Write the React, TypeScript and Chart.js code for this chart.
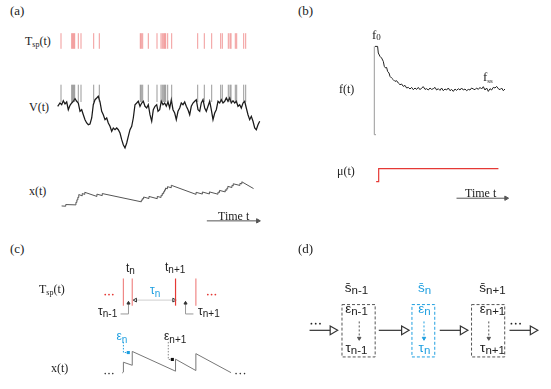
import React, { useEffect, useRef } from "react";
import { Chart, registerables } from "chart.js";
Chart.register(...registerables);

const SERIF = '"Liberation Serif", "Times New Roman", serif';
const SANS = '"Liberation Sans", Arial, sans-serif';
const RED = "#e53935";
const BLUE = "#1f9fe0";

// ---------------- Panel (a) data ----------------
const spikeTimesA = [6, 16.7, 17.7, 18.7, 19.7, 23.3, 26, 38.7, 44.3, 85.3, 86.3, 87.7, 93.3, 102, 106, 107.3, 108.7, 109.7, 110.7, 112.7, 116.7, 142.7, 149.3, 156.7, 165.7, 167.3, 173.3, 175, 176, 180.3, 181.7, 188.7, 190.7];

const vTimes = [2.7, 5, 6.7, 8.3, 10, 11.7, 13.3, 15, 16.7, 18.3, 20, 21.7, 23.3, 25, 26.7, 28.3, 30, 31.7, 33.3, 35, 36.7, 38.3, 40, 41.7, 43.3, 45, 46.7, 48.3, 50, 51.7, 53.3, 55, 56.7, 58.3, 60, 61.7, 63.3, 65, 66.7, 68.3, 70, 71.7, 73.3, 75, 76.7, 78.3, 80, 81.7, 83.3, 85, 86.7, 88.3, 90, 91.7, 93.3, 95, 96.7, 98.3, 100, 101.7,
  103, 104.7, 106.3, 108, 109.7, 111.3, 113, 114.7, 116.3, 118, 119.7, 121.3, 123, 124.7, 126.3, 128, 129.7, 131.3, 133, 134.7, 136.3, 138, 139.7, 141.3, 143, 144.7, 146.3, 148, 149.7, 151.3, 153, 154.7, 156.3, 158, 159.7, 161.3, 163, 164.7, 166.3, 168, 169.7, 171.3, 173, 174.7, 176.3, 178, 179.7, 181.3, 183, 184.7, 186.3, 188, 189.7, 191.3, 193, 194.7, 196.3, 198, 199.7, 201.3, 203, 204.7];
const vValues = [-28.3, -25, -26.7, -22.7, -26, -24, -31.7, -27.3, -25, -23.3, -20.7, -23.3, -25, -33.3, -31.7, -36.7, -41.7, -45, -46.7, -46, -40, -26.7, -21.7, -20, -18.3, -24, -33.3, -36.7, -41.7, -40, -45, -48.3, -53.3, -50, -51.7, -50, -51.7, -55, -61.7, -66.7, -70, -65, -58.3, -51.7, -48.3, -40, -26.7, -25, -23.3, -28.3, -25, -23.3, -28.3, -30, -26.7, -36.7, -43.3, -31.7, -28.3, -26.7,
  -33.3, -31.7, -23.3, -26.7, -25, -28.3, -24, -30, -21.7, -31.7, -35, -41.7, -33.3, -30, -25, -26.7, -24, -28.3, -31.7, -36.7, -28.3, -25, -23.3, -21.7, -31.7, -33.3, -25, -21.7, -30, -33.3, -28.3, -23.3, -31.7, -41.7, -35, -31.7, -23.3, -25, -21.7, -25, -23.3, -20, -23.3, -20, -25, -22.7, -25, -23.3, -28.3, -26.7, -30, -25, -23.3, -30, -36.7, -41.7, -38.3, -43.3, -50, -51.7, -46.7, -43.3];
const vSpikeTop = -6.7;
const vSpikeBase = -24;

const xTimes = [1.7, 6, 6, 16.7, 16.7, 17.7, 17.7, 18.7, 18.7, 19.7, 19.7, 23.3, 23.3, 26, 26, 38.7, 38.7, 44.3, 44.3, 85.3, 85.3, 86.3, 86.3, 87.7, 87.7, 93.3, 93.3, 102, 102, 106, 106, 107.3, 107.3, 108.7, 108.7, 109.7, 109.7, 110.7, 110.7, 112.7, 112.7, 116.7, 116.7, 142.7, 142.7, 149.3, 149.3, 156.7, 156.7, 165.7, 165.7, 167.3, 167.3, 173.3, 173.3, 175, 175, 176, 176, 180.3, 180.3, 181.7, 181.7, 188.7, 188.7, 190.7, 190.7, 203];
const xValues = [7, 6.7, 8.7, 8.3, 11.5, 11.3, 14.5, 14.3, 17.5, 17.3, 20.8, 19.2, 22, 21, 23.5, 18.5, 21.3, 19.5, 22, 12, 14, 13.8, 15.8, 15.5, 17.8, 16, 18.5, 15.8, 18.5, 17.3, 20, 19.6, 22.3, 21.8, 24.3, 24, 26.5, 26.1, 28.6, 27.8, 30.3, 29, 32, 21, 23.5, 21.4, 23.9, 21.5, 24, 21.2, 23.8, 23.3, 25.8, 24, 26.5, 26, 28.5, 28.2, 30.7, 29.3, 31.8, 31.3, 33.8, 31.8, 34.3, 33.7, 36.2, 28];

// ---------------- Panel (b) data ----------------
const fTimes = [0.7, 3.3, 4, 5.7, 7.3, 9, 10, 11.3, 12.3, 13.3, 14.7, 15.7, 17.3, 19, 20.7, 22.3, 24, 25.7, 27.3, 29, 30.7, 32.3, 34, 35.7, 37.3, 39, 40.7, 42.3, 44, 45.7, 47.3, 49, 50.7, 52.3, 54, 55.7, 57.3, 59, 60.7, 62.3, 64, 65.7, 67.3, 69, 70.7, 72.3, 74, 75.7, 77.3, 79, 80.7, 82.3, 84, 85.7, 87.3, 89, 90.7, 92.3, 94, 95.7, 97.3, 99, 100.7, 102.3, 104, 105.7, 107.3, 109, 110.7, 112.3, 114, 115.7, 117.3, 119, 120.7, 122.3, 124, 125.7, 127.3, 129, 130.7];
const fValues = [88.3, 88.3, 81.7, 78.3, 76.7, 73.3, 68.3, 66.7, 67.3, 63.3, 61.7, 58.3, 56.7, 55, 53.3, 54, 51.7, 50, 50.7, 48.3, 49.3, 46.7, 47.3, 45.7, 47.3, 45, 46.7, 45.3, 47.3, 45, 46.7, 48, 45.3, 46, 44.7, 46.7, 45.3, 46, 47.3, 44.7, 46, 44.3, 46.7, 44, 45.7, 44.7, 46.7, 44, 45.3, 43.3, 45.7, 44.3, 46, 44.7, 46.7, 44.7, 45.7, 44, 45.3, 44.7, 46.7, 45.7, 45, 46.7, 45.3, 47.3, 45.7, 48, 44.7, 46.7, 43.3, 46, 44.7, 47.3, 46.7, 48.3, 46, 45, 46.7, 44, 45.7];
const fZero = 0;
const fInit = 88.3;
const muTimes = [-2.7, 0, 0, 128.3];
const muValues = [0, 0, 1, 1];

// ---------------- Panel (c) data ----------------
const cSpikeTimes = [32.3, 41.7, 87.7, 109.3];
const cSawTimes = [31, 32.3, 32.3, 41.7, 41.7, 87.7, 87.7, 109.3, 109.3, 146.7];
const cSawValues = [4.3, 5.3, 16, 12.7, 27.7, 6.3, 19.3, 7, 25.3, 4.7];

// ---------------- Panel (d) data ----------------
const dStates = ["n-1", "n", "n+1"];

// ---------------- helpers ----------------
const pts = (xs: number[], ys: number[]) => xs.map((x, i) => ({ x, y: ys[i] }));

function baseOpts(xmin: number, xmax: number, ymin: number, ymax: number) {
  return {
    responsive: false,
    maintainAspectRatio: false,
    animation: false,
    events: [],
    layout: { padding: 0 },
    plugins: { legend: { display: false }, tooltip: { enabled: false }, title: { display: false } },
    scales: {
      x: { type: "linear", min: xmin, max: xmax, display: false },
      y: { type: "linear", min: ymin, max: ymax, display: false },
    },
  };
}

function line(points: any[], color: string, width: number, extra: any = {}) {
  return {
    data: points,
    showLine: true,
    borderColor: color,
    borderWidth: width,
    pointRadius: 0,
    fill: false,
    tension: 0,
    clip: false,
    ...extra,
  };
}

function arrow(x0: number, y0: number, x1: number, y1: number, color: string, width: number, headR: number, rot: number, headFill: string, extra: any = {}) {
  return line([{ x: x0, y: y0 }, { x: x1, y: y1 }], color, width, {
    pointRadius: [0, headR],
    pointStyle: "triangle",
    pointRotation: [0, rot],
    pointBackgroundColor: headFill,
    pointBorderColor: color,
    pointBorderWidth: 1,
    ...extra,
  });
}

function dots(xs: number[], y: number, color: string, r: number) {
  return {
    data: xs.map((x) => ({ x, y })),
    showLine: false,
    pointRadius: r,
    pointBackgroundColor: color,
    pointBorderWidth: 0,
    clip: false,
  };
}

function ChartCanvas({ x, y, w, h, make }: any) {
  const ref = useRef<HTMLCanvasElement>(null);
  useEffect(() => {
    const chart = new Chart(ref.current as HTMLCanvasElement, make());
    return () => chart.destroy();
  }, []);
  return (
    <canvas
      ref={ref}
      width={w}
      height={h}
      style={{ position: "absolute", left: x, top: y, width: w, height: h }}
    />
  );
}

function Label({ x, y, size = 12, font = SERIF, color = "#222", center = false, children }: any) {
  return (
    <div
      style={{
        position: "absolute",
        left: x,
        top: y - size * 0.85,
        fontFamily: font,
        fontSize: size,
        lineHeight: size + "px",
        color,
        whiteSpace: "nowrap",
        transform: center ? "translateX(-50%)" : undefined,
      }}
    >
      {children}
    </div>
  );
}

function Sub({ size, drop, children }: any) {
  return <span style={{ fontSize: size, lineHeight: 0, verticalAlign: -drop + "px" }}>{children}</span>;
}

// ---------------- chart builders ----------------
const makeRaster = () => ({
  type: "scatter",
  data: {
    datasets: spikeTimesA.map((t) => line([{ x: t, y: 0.2 }, { x: t, y: 0.8 }], "rgba(229,70,70,0.55)", 1)),
  },
  options: baseOpts(0, 210, 0, 1),
});

const makeV = () => ({
  type: "scatter",
  data: {
    datasets: [
      ...spikeTimesA.map((t) => line([{ x: t, y: vSpikeBase }, { x: t, y: vSpikeTop }], "rgba(70,70,70,0.55)", 1)),
      line(pts(vTimes, vValues), "#1a1a1a", 1.25),
    ],
  },
  options: baseOpts(0, 210, -78, 0),
});

const makeX = () => ({
  type: "scatter",
  data: {
    datasets: [
      line(pts(xTimes, xValues), "#555", 1),
      arrow(154, -11, 207.5, -11, "#555", 1, 2.5, 90, "#555"),
    ],
  },
  options: baseOpts(0, 215, -16, 42),
});

const makeF = () => ({
  type: "scatter",
  data: {
    datasets: [
      line([{ x: 1.7, y: fZero }, { x: 0, y: fZero }, { x: 0, y: fInit }], "#999", 1),
      line(pts(fTimes, fValues), "#222", 1),
    ],
  },
  options: baseOpts(-9.3, 140.7, -5.3, 106.7),
});

const makeMu = () => ({
  type: "scatter",
  data: {
    datasets: [
      line(pts(muTimes, muValues), RED, 1.2),
      arrow(83.4, -1.2875, 136.5, -1.2875, "#555", 1, 2.5, 90, "#555"),
    ],
  },
  options: baseOpts(-9.3, 140.7, -1.581, 1.669),
});

const makeC = () => ({
  type: "scatter",
  data: {
    datasets: [
      ...cSpikeTimes.map((t, i) =>
        line([{ x: t, y: 77.3 }, { x: t, y: 106.7 }], i === 2 ? RED : "rgba(229,57,53,0.6)", 1.2)
      ),
      dots([13, 17, 21], 89.3, RED, 0.9),
      dots([122, 126, 130], 89.3, RED, 0.9),
      line([{ x: 45, y: 83.3 }, { x: 86, y: 83.3 }], "#cfcfcf", 1, {
        pointRadius: [2.2, 2.2],
        pointStyle: "triangle",
        pointRotation: [270, 90],
        pointBackgroundColor: "rgba(0,0,0,0)",
        pointBorderColor: "#333",
        pointBorderWidth: 1,
      }),
      line([{ x: 29.3, y: 68.3 }, { x: 37.7, y: 68.3 }, { x: 37.7, y: 80 }], "#999", 1, {
        pointRadius: [0, 0, 1.8],
        pointStyle: "triangle",
        pointBackgroundColor: "#333",
        pointBorderColor: "#333",
      }),
      line([{ x: 106.7, y: 68.3 }, { x: 98.3, y: 68.3 }, { x: 98.3, y: 80 }], "#999", 1, {
        pointRadius: [0, 0, 1.8],
        pointStyle: "triangle",
        pointBackgroundColor: "#333",
        pointBorderColor: "#333",
      }),
      line(pts(cSawTimes, cSawValues), "#777", 1),
      line([{ x: 32.3, y: 38 }, { x: 32.3, y: 26.5 }, { x: 37.5, y: 26.5 }], BLUE, 1, {
        borderDash: [1.5, 1.5],
        pointRadius: [0, 0, 2.2],
        pointStyle: "rect",
        pointBackgroundColor: BLUE,
        pointBorderWidth: 0,
      }),
      line([{ x: 80, y: 38 }, { x: 80, y: 19 }, { x: 84.3, y: 19 }], "#888", 1, {
        borderDash: [1.5, 1.5],
        pointRadius: [0, 0, 2.2],
        pointStyle: "rect",
        pointBackgroundColor: "#111",
        pointBorderWidth: 0,
      }),
      dots([13, 17, 21], 3.7, "#333", 0.8),
      dots([152, 156.5, 161], 3.7, "#333", 0.8),
    ],
  },
  options: baseOpts(0, 170, 0, 130),
});

// panel (d) layout (state index units)
const D_XMIN = -0.963;
const D_XMAX = 2.875;
const D_BOX = { x: 290, y: 270, w: 261, h: 110 };
const dHalf = (s: string) => 0.136 + 0.04 * s.length;
const dColor = (i: number) => (i === 1 ? BLUE : "#555");
const dCenterPx = (i: number) => D_BOX.x + ((i - D_XMIN) / (D_XMAX - D_XMIN)) * D_BOX.w;

const makeD = () => {
  const ds: any[] = [];
  dStates.forEach((s, i) => {
    const h = dHalf(s);
    ds.push(
      line(
        [{ x: i - h, y: 29 }, { x: i + h, y: 29 }, { x: i + h, y: -30 }, { x: i - h, y: -30 }, { x: i - h, y: 29 }],
        dColor(i),
        1,
        { borderDash: [3, 2] }
      )
    );
    ds.push(
      line([{ x: i + 0.01, y: 10 }, { x: i + 0.01, y: -9 }], dColor(i), 1, {
        borderDash: [2, 2],
        pointRadius: [0, 2],
        pointStyle: "triangle",
        pointRotation: [0, 180],
        pointBackgroundColor: dColor(i),
        pointBorderColor: dColor(i),
      })
    );
  });
  const starts = [-0.757, 0.312, 1.253, 2.33];
  const heads = [-0.4, 0.703, 1.61, 2.69];
  starts.forEach((s, k) => ds.push(arrow(s, 0, heads[k], 0, "#333", 1.2, 5, 90, "#fff", { pointBorderWidth: 1.2 })));
  ds.push(dots([-0.728, -0.662, -0.596], 7.5, "#222", 0.9));
  ds.push(dots([2.36, 2.426, 2.493], 7.5, "#222", 0.9));
  return { type: "scatter", data: { datasets: ds }, options: baseOpts(D_XMIN, D_XMAX, -49, 61) };
};

const sbar = "s\u0304";

export default function App() {
  const subC = 10;
  return (
    <div style={{ position: "absolute", left: 0, top: 0, width: 551, height: 389, background: "#fff", overflow: "hidden" }}>
      {/* Panel (a) */}
      <ChartCanvas x={55} y={28} w={210} h={26} make={makeRaster} />
      <ChartCanvas x={55} y={78} w={210} h={78} make={makeV} />
      <ChartCanvas x={55} y={172} w={215} h={58} make={makeX} />
      <Label x={10} y={15} size={13}>(a)</Label>
      <Label x={25} y={45} size={12}>T<Sub size={8} drop={2}>sp</Sub>(t)</Label>
      <Label x={29} y={111.5} size={12}>V(t)</Label>
      <Label x={29} y={195.5} size={12}>x(t)</Label>
      <Label x={218} y={220} size={12}>Time t</Label>

      {/* Panel (b) */}
      <ChartCanvas x={365} y={28} w={150} h={112} make={makeF} />
      <ChartCanvas x={365} y={155} w={150} h={52} make={makeMu} />
      <Label x={298} y={15} size={13}>(b)</Label>
      <Label x={372} y={39.5} size={13}>f<Sub size={9} drop={1}>0</Sub></Label>
      <Label x={483} y={81} size={13}>f<Sub size={7} drop={2}>ss</Sub></Label>
      <Label x={339} y={93} size={12}>f(t)</Label>
      <Label x={337} y={175} size={12}>μ(t)</Label>
      <Label x={465} y={197.5} size={12}>Time t</Label>

      {/* Panel (c) */}
      <ChartCanvas x={88} y={252} w={170} h={130} make={makeC} />
      <Label x={10} y={253} size={13}>(c)</Label>
      <Label x={39} y={293.5} size={12}>T<Sub size={8} drop={2}>sp</Sub>(t)</Label>
      <Label x={51} y={372} size={12}>x(t)</Label>
      <Label x={126} y={272} size={12} font={SANS}>t<Sub size={subC} drop={1.5}>n</Sub></Label>
      <Label x={165} y={271.5} size={12} font={SANS}>t<Sub size={subC} drop={1.5}>n+1</Sub></Label>
      <Label x={150} y={294} size={12} font={SANS} color={BLUE}>τ<Sub size={subC} drop={2.5}>n</Sub></Label>
      <Label x={98} y={315} size={12} font={SANS}>τ<Sub size={subC} drop={2}>n-1</Sub></Label>
      <Label x={198} y={315} size={12} font={SANS}>τ<Sub size={subC} drop={2}>n+1</Sub></Label>
      <Label x={116.5} y={340} size={12} font={SANS} color={BLUE}>ε<Sub size={subC} drop={2.5}>n</Sub></Label>
      <Label x={164} y={340} size={12} font={SANS}>ε<Sub size={subC} drop={2.5}>n+1</Sub></Label>

      {/* Panel (d) */}
      <ChartCanvas x={D_BOX.x} y={D_BOX.y} w={D_BOX.w} h={D_BOX.h} make={makeD} />
      <Label x={298} y={253} size={13}>(d)</Label>
      {dStates.map((s, i) => (
        <React.Fragment key={s}>
          <Label x={dCenterPx(i) + 1} y={292.5} size={13.5} font={SANS} color={i === 1 ? BLUE : "#222"} center>
            {sbar}<Sub size={11.5} drop={2}>{s}</Sub>
          </Label>
          <Label x={dCenterPx(i) + 1} y={313.5} size={13.5} font={SANS} color={i === 1 ? BLUE : "#222"} center>
            ε<Sub size={11.5} drop={2}>{s}</Sub>
          </Label>
          <Label x={dCenterPx(i) + 1} y={352} size={13.5} font={SANS} color={i === 1 ? BLUE : "#222"} center>
            τ<Sub size={11.5} drop={2}>{s}</Sub>
          </Label>
        </React.Fragment>
      ))}
    </div>
  );
}
